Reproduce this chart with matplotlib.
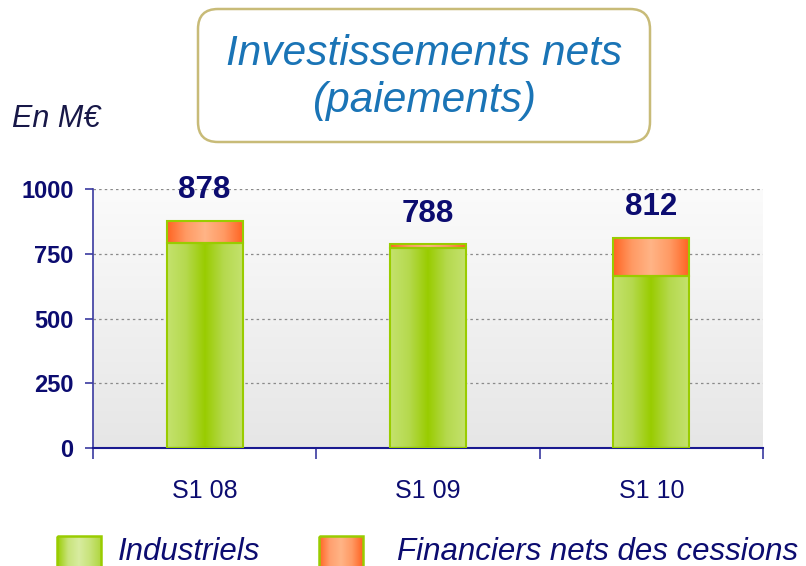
import numpy as np
import matplotlib
matplotlib.use("Agg")
import matplotlib.pyplot as plt
from matplotlib.patches import FancyBboxPatch, Rectangle
from matplotlib.colors import LinearSegmentedColormap

# ---- data ----
categories = ["S1 08", "S1 09", "S1 10"]
industriels = [790, 772, 664]
financiers = [88, 16, 148]
totals = [878, 788, 812]
series_names = ["Industriels", "Financiers nets des cessions"]
yticks = [0, 250, 500, 750, 1000]

NAVY = "#0c0c70"
FONT = "Liberation Sans"
plt.rcParams["font.family"] = [FONT, "DejaVu Sans"]

fig = plt.figure(figsize=(8.06, 5.66), dpi=100)
W, H = 806, 566

ax = fig.add_axes([93 / W, 1 - 448 / H, (763 - 93) / W, (448 - 189) / H])
ax.set_xlim(-0.5, len(categories) - 0.5)
ax.set_ylim(0, 1000)

# background gradient
bg = np.linspace(0, 1, 256).reshape(-1, 1)
bg_cmap = LinearSegmentedColormap.from_list("bg", ["#e6e6e6", "#fbfbfb"])
ax.imshow(bg, aspect="auto", cmap=bg_cmap, origin="lower",
          extent=(-0.5, len(categories) - 0.5, 0, 1000), zorder=0)

green_cmap = LinearSegmentedColormap.from_list(
    "g", ["#c4e26e", "#b5d94e", "#99cc00", "#b5d94e", "#c4e26e"])
orange_cmap = LinearSegmentedColormap.from_list(
    "o", ["#ff6422", "#ff9a64", "#ffb486", "#ff9a64", "#ff6422"])

x = np.arange(len(categories))
width = 0.34
b1 = ax.bar(x, industriels, width, color="none", edgecolor="#99cc00",
            linewidth=1.5, zorder=3)
b2 = ax.bar(x, financiers, width, bottom=industriels, color="none",
            edgecolor="#99cc00", linewidth=1.5, zorder=3)

grad = np.linspace(0, 1, 256).reshape(1, -1)
for bars, cmap in ((b1, green_cmap), (b2, orange_cmap)):
    for p in bars:
        x0, y0 = p.get_x(), p.get_y()
        w, h = p.get_width(), p.get_height()
        im = ax.imshow(grad, aspect="auto", cmap=cmap,
                       extent=(x0, x0 + w, y0, y0 + h), zorder=2)
        clip = Rectangle((x0, y0), w, h, transform=ax.transData)
        im.set_clip_path(clip)

for xi, t in zip(x, totals):
    ax.annotate(f"{t}", (xi, t), xytext=(0, 11), textcoords="offset points",
                ha="center", va="bottom", fontsize=22.5, fontweight="bold",
                color=NAVY)

# grid
ax.set_yticks(yticks)
ax.set_yticklabels([str(v) for v in yticks], fontsize=17, fontweight="bold",
                   color=NAVY)
for v in yticks[1:]:
    ax.axhline(v, color="#8a8a8a", linestyle=(0, (2, 2.5)), linewidth=0.9,
               zorder=1)

ax.set_xticks(x)
ax.set_xticklabels(categories, fontsize=18, color=NAVY)
ax.set_xticks(np.arange(-0.5, len(categories)), minor=True)
ax.tick_params(axis="x", which="major", length=0, pad=22)
ax.tick_params(axis="x", which="minor", length=8, color="#3a3aa0", width=1.2,
               direction="out")
ax.tick_params(axis="y", length=6, color="#3a3aa0", width=1.2, pad=8)

for s in ("top", "right"):
    ax.spines[s].set_visible(False)
ax.spines["left"].set_color("#3a3aa0")
ax.spines["left"].set_linewidth(1.2)
ax.spines["bottom"].set_color("#1a1a90")
ax.spines["bottom"].set_linewidth(1.5)

# ---- overlay for title, unit and legend ----
ov = fig.add_axes([0, 0, 1, 1], zorder=-1)
ov.set_xlim(0, W)
ov.set_ylim(H, 0)
ov.axis("off")

box = FancyBboxPatch((198, 9), 452, 133, boxstyle="round,pad=0,rounding_size=20",
                     facecolor="white", edgecolor="#c8bb78", linewidth=1.8)
ov.add_patch(box)
ov.text(424, 65, "Investissements nets", ha="center", va="baseline",
        fontsize=30.5, style="italic", color="#1a74b6")
ov.text(424, 112, "(paiements)", ha="center", va="baseline",
        fontsize=30.5, style="italic", color="#1a74b6")
ov.text(12, 127, "En M€", ha="left", va="baseline", fontsize=22,
        style="italic", color="#181848")

ov2 = fig.add_axes([0, 0, 1, 1], zorder=5)
ov2.set_xlim(0, W)
ov2.set_ylim(H, 0)
ov2.axis("off")
leg_green = LinearSegmentedColormap.from_list(
    "lg", ["#99cc00", "#c8e37a", "#d8eca0", "#c8e37a", "#b0d640"])
leg_orange = LinearSegmentedColormap.from_list(
    "lo", ["#ff6422", "#ffa070", "#ffb486", "#ff9a64", "#ff6422"])
for (sx, tx, cmap, name) in ((57, 118, leg_green, series_names[0]),
                             (319, 397, leg_orange, series_names[1])):
    ov2.imshow(grad, aspect="auto", cmap=cmap,
               extent=(sx, sx + 44, H + 2, 536))
    ov2.add_patch(Rectangle((sx, 536), 44, 32, facecolor="none",
                            edgecolor="#99cc00", linewidth=1.8))
    ov2.text(tx, 560, name, ha="left", va="baseline", fontsize=22.5,
             style="italic", color=NAVY)
ov2.set_xlim(0, W)
ov2.set_ylim(H, 0)

fig.savefig("out.png", dpi=100)
